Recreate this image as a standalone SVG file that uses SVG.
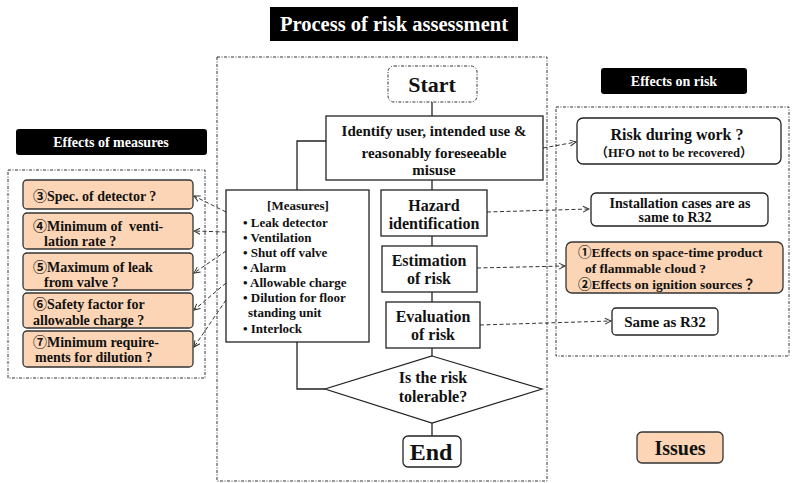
<svg xmlns="http://www.w3.org/2000/svg" width="792" height="483" viewBox="0 0 792 483">
<defs>
<style>
text{font-family:'Liberation Serif','Noto Sans CJK JP',serif;font-weight:bold;fill:#111}
.wt{fill:#fff}
.box{fill:#fff;stroke:#222;stroke-width:1.3}
.org{fill:#fbd5b5;stroke:#333;stroke-width:1.3}
.blk{fill:#000}
.panel{fill:none;stroke:#333;stroke-width:1;stroke-dasharray:3 1.5 1 1.5}
.ln{fill:none;stroke:#222;stroke-width:1.3}
.dash{fill:none;stroke:#333;stroke-width:1;stroke-dasharray:4 2.5;marker-end:url(#arr)}
.c{text-anchor:middle}
</style>
<marker id="arr" markerWidth="8" markerHeight="8" refX="7" refY="4" orient="auto" markerUnits="userSpaceOnUse">
<path d="M1,1 L7,4 L1,7" fill="none" stroke="#333" stroke-width="1"/>
</marker>
</defs>
<rect width="792" height="483" fill="#fff"/>

<g id="title">
<rect class="blk" x="270" y="7" width="248" height="34"/>
<text class="wt c" x="394" y="31" font-size="20.5">Process of risk assessment</text>
</g>

<rect id="center-panel" class="panel" x="217" y="57" width="330" height="424"/>
<rect id="left-panel" class="panel" x="8" y="170" width="197" height="208"/>
<rect id="right-panel" class="panel" x="556" y="107" width="233" height="249"/>

<g id="hdr-measures">
<rect class="blk" x="16" y="129" width="191" height="26" rx="3"/>
<text class="wt c" x="111" y="147" font-size="14">Effects of measures</text>
</g>
<g id="hdr-risk">
<rect class="blk" x="601" y="68" width="146" height="26" rx="3"/>
<text class="wt c" x="674" y="86" font-size="14">Effects on risk</text>
</g>

<g id="connectors">
<path class="ln" d="M432,102 V116"/>
<path class="ln" d="M432,180 V190"/>
<path class="ln" d="M432,236 V246"/>
<path class="ln" d="M432,292 V302"/>
<path class="ln" d="M432,348 V356"/>
<path class="ln" d="M432,423 V436"/>
<path class="ln" d="M326,141 H297 V190"/>
<path class="ln" d="M297,342 V389 H325"/>
<path class="dash" d="M226,212 L194,196"/>
<path class="dash" d="M226,232 L194,231"/>
<path class="dash" d="M226,251 L194,273"/>
<path class="dash" d="M226,283 L194,310"/>
<path class="dash" d="M226,300 L194,347"/>
<path class="dash" d="M543,148 L576,142"/>
<path class="dash" d="M487,212 L589,209"/>
<path class="dash" d="M477,268 L565,266"/>
<path class="dash" d="M480,325 L611,321"/>
</g>

<g id="start">
<rect x="388" y="66" width="89" height="36" rx="6" fill="#fff" stroke="#333" stroke-width="1" stroke-dasharray="3 1.5 1 1.5"/>
<text class="c" x="432" y="92" font-size="22">Start</text>
</g>

<g id="identify">
<rect class="box" x="326" y="116" width="217" height="64"/>
<text class="c" x="434" y="136" font-size="15">Identify user, intended use &amp;</text>
<text class="c" x="434" y="158" font-size="15">reasonably foreseeable</text>
<text class="c" x="434" y="175" font-size="15">misuse</text>
</g>

<g id="measures">
<rect class="box" x="226" y="190" width="143" height="152"/>
<text class="c" x="298" y="210" font-size="13">[Measures]</text>
<text x="243" y="226.5" font-size="13">• Leak detector</text>
<text x="243" y="241.5" font-size="13">• Ventilation</text>
<text x="243" y="256.5" font-size="13">• Shut off valve</text>
<text x="243" y="272" font-size="13">• Alarm</text>
<text x="243" y="287" font-size="13">• Allowable charge</text>
<text x="243" y="302" font-size="13">• Dilution for floor</text>
<text x="248" y="317" font-size="13">standing unit</text>
<text x="243" y="332.5" font-size="13">• Interlock</text>
</g>

<g id="hazard">
<rect class="box" x="381" y="190" width="106" height="46"/>
<text class="c" x="434" y="211" font-size="16">Hazard</text>
<text class="c" x="434" y="229" font-size="16">identification</text>
</g>

<g id="estimation">
<rect class="box" x="382" y="246" width="95" height="46"/>
<text class="c" x="429" y="266" font-size="16">Estimation</text>
<text class="c" x="429" y="284" font-size="16">of risk</text>
</g>

<g id="evaluation">
<rect class="box" x="386" y="302" width="94" height="46"/>
<text class="c" x="433" y="322" font-size="16">Evaluation</text>
<text class="c" x="433" y="340" font-size="16">of risk</text>
</g>

<g id="decision">
<polygon points="432,356 542,389 432,423 325,389" fill="#fff" stroke="#222" stroke-width="1.2"/>
<text class="c" x="433" y="383" font-size="16">Is the risk</text>
<text class="c" x="433" y="402" font-size="16">tolerable?</text>
</g>

<g id="end">
<rect class="box" x="403" y="436" width="58" height="31" rx="5"/>
<text class="c" x="431" y="460" font-size="24">End</text>
</g>

<g id="m3">
<rect class="org" x="23" y="180" width="170" height="29" rx="4"/>
<text x="33" y="201" font-size="14">③Spec. of detector ?</text>
</g>
<g id="m4">
<rect class="org" x="23" y="213" width="170" height="36" rx="4"/>
<text x="33" y="231" font-size="14">④Minimum of&#160; venti-</text>
<text x="44" y="246" font-size="14">lation rate ?</text>
</g>
<g id="m5">
<rect class="org" x="23" y="253" width="170" height="37" rx="4"/>
<text x="33" y="272" font-size="14">⑤Maximum of leak</text>
<text x="44" y="287" font-size="14">from valve ?</text>
</g>
<g id="m6">
<rect class="org" x="23" y="293" width="170" height="35" rx="4"/>
<text x="33" y="309" font-size="14">⑥Safety factor for</text>
<text x="33" y="325" font-size="14">allowable charge ?</text>
</g>
<g id="m7">
<rect class="org" x="23" y="331" width="170" height="36" rx="4"/>
<text x="33" y="347" font-size="14">⑦Minimum require-</text>
<text x="35" y="362" font-size="14">ments for dilution ?</text>
</g>

<g id="r-work">
<rect class="box" x="577" y="118" width="204" height="46" rx="6"/>
<text class="c" x="677" y="140" font-size="16">Risk during work ?</text>
<text class="c" x="674" y="157" font-size="12.5">（HFO not to be recovered）</text>
</g>
<g id="r-install">
<rect class="box" x="591" y="193" width="177" height="33" rx="5"/>
<text class="c" x="680" y="208" font-size="14">Installation cases are as</text>
<text class="c" x="675" y="222" font-size="14">same to R32</text>
</g>
<g id="r-effects">
<rect class="org" x="566" y="242" width="217" height="51" rx="6"/>
<text x="578" y="257" font-size="13.5">①Effects on space-time product</text>
<text x="585" y="273" font-size="13.5">of flammable cloud ?</text>
<text x="578" y="289" font-size="13.5">②Effects on ignition sources？</text>
</g>
<g id="r-same">
<rect class="box" x="612" y="308" width="106" height="27" rx="4"/>
<text class="c" x="665" y="327" font-size="15">Same as R32</text>
</g>

<g id="issues">
<rect class="org" x="637" y="432" width="86" height="31" rx="5"/>
<text class="c" x="680" y="455" font-size="20">Issues</text>
</g>
</svg>
